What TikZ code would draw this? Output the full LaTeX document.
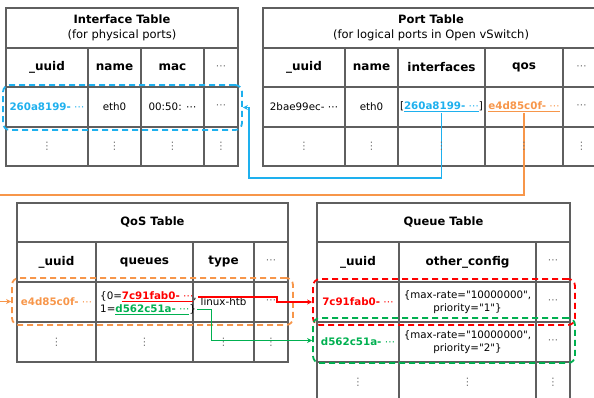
\documentclass[tikz,border=0pt]{standalone}
\usepackage{fontspec}
\setmainfont{DejaVu Sans}
% same face without TeX ligature mapping, so " stays a straight quote
\newfontfamily\plainqfont{DejaVu Sans}
\usetikzlibrary{arrows.meta,calc}
\definecolor{gridgray}{HTML}{5F5F5F}
\definecolor{dotgray}{HTML}{6E6E6E}
\definecolor{cblue}{HTML}{1EB0EE}
\definecolor{corange}{HTML}{F7964A}
\definecolor{cred}{HTML}{FF0000}
\definecolor{cgreen}{HTML}{00B050}
\tikzset{
  grid/.style={draw=gridgray, line width=1.2pt},
  ttl/.style={font=\fontsize{11.5}{15}\selectfont, align=center, inner sep=0pt},
  hdr/.style={font=\bfseries\fontsize{12}{14}\selectfont, inner sep=1pt},
  cell/.style={font=\fontsize{10.3}{12.5}\selectfont, inner sep=1pt},
  cfg/.style={font=\plainqfont\fontsize{10.3}{12.5}\selectfont, inner sep=1pt, align=center},
  dots/.style={cell, text=dotgray},
  dbox/.style={draw=#1, line width=1.8pt, dash pattern=on 6pt off 4pt,
    rounded corners=7pt, inner sep=0pt},
  link/.style={draw=#1, line width=1.5pt, -{Stealth[length=5pt,width=5pt]}}
}
\begin{document}
\begin{tikzpicture}[x=1pt,y=-1pt]
\useasboundingbox (0,0) rectangle (594,397);

% ---------- Interface table ----------
\draw[grid] (6,8) rectangle (238,166);
\foreach \yy in {48,87,127} \draw[grid] (6,\yy) -- (238,\yy);
\foreach \xx in {88,141,204} \draw[grid] (\xx,48) -- (\xx,166);
\node[ttl] (ifTitle) at (122,28) {\textbf{Interface Table}\\(for physical ports)};
\node[hdr] (ifH1) at (47,67.5) {\_uuid};
\node[hdr] (ifH2) at (114.5,67.5) {name};
\node[hdr] (ifH3) at (172.5,67.5) {mac};
\node[dots] (ifH4) at (221,67.5) {⋯};
\node[cell, text=cblue] (ifD1) at (47,107) {\textbf{260a8199-} ⋯};
\node[cell] (ifD2) at (114.5,107) {eth0};
\node[cell] (ifD3) at (172.5,107) {00:50: ⋯};
\node[dots] (ifD4) at (221,107) {⋯};
\node[dots] (ifE1) at (47,146.5) {⋮};
\node[dots] (ifE2) at (114.5,146.5) {⋮};
\node[dots] (ifE3) at (172.5,146.5) {⋮};
\node[dots] (ifE4) at (221,146.5) {⋮};

% ---------- Port table ----------
\draw[grid] (600,8) -- (263,8) -- (263,166) -- (600,166);
\foreach \yy in {48,87,127} \draw[grid] (263,\yy) -- (600,\yy);
\foreach \xx in {345,398,485,563} \draw[grid] (\xx,48) -- (\xx,166);
\node[ttl] (ptTitle) at (431,28) {\textbf{Port Table}\\(for logical ports in Open vSwitch)};
\node[hdr] (ptH1) at (304,67.5) {\_uuid};
\node[hdr] (ptH2) at (371.5,67.5) {name};
\node[hdr] (ptH3) at (441.5,67.5) {interfaces};
\node[hdr] (ptH4) at (524,67.5) {qos};
\node[dots] (ptH5) at (581.5,67.5) {⋯};
\node[cell] (ptD1) at (304,107) {2bae99ec- ⋯};
\node[cell] (ptD2) at (371.5,107) {eth0};
\node[cell] (portIf) at (441.5,107) {[\textcolor{cblue}{\underline{\textbf{260a8199-} ⋯}}]};
\node[cell, text=corange] (portQos) at (524,107) {\underline{\textbf{e4d85c0f-} ⋯}};
\node[dots] (ptD5) at (581.5,107) {⋯};
\node[dots] (ptE1) at (304,146.5) {⋮};
\node[dots] (ptE2) at (371.5,146.5) {⋮};
\node[dots] (ptE5) at (581.5,146.5) {⋮};

% ---------- QoS table ----------
\draw[grid] (17,203) rectangle (288,362);
\foreach \yy in {242,282,322} \draw[grid] (17,\yy) -- (288,\yy);
\foreach \xx in {96,193,254} \draw[grid] (\xx,242) -- (\xx,362);
\node[ttl] (qsTitle) at (152.5,222) {\textbf{QoS Table}};
\node[hdr] (qsH1) at (56.5,262) {\_uuid};
\node[hdr] (qsH2) at (144.5,262) {queues};
\node[hdr] (qsH3) at (223.5,262) {type};
\node[dots] (qsH4) at (271,262) {⋯};
\node[cell, text=corange] (qsD1) at (56.5,302) {\textbf{e4d85c0f-} ⋯};
\node[cell, anchor=west] (q0) at (99,297) {\{0=\textcolor{cred}{\underline{\textbf{7c91fab0-} ⋯}},};
\node[cell, anchor=west] (q1) at (99,309.5) {1=\textcolor{cgreen}{\underline{\textbf{d562c51a-} ⋯}}\}};
\node[cell] (qsD3) at (223.5,302) {linux-htb};
\node[dots] (qsD4) at (271,302) {⋯};
\node[dots] (qsE1) at (56.5,342) {⋮};
\node[dots] (qsE2) at (144.5,342) {⋮};

% ---------- Queue table ----------
\draw[grid] (317,405) -- (317,203) -- (570,203) -- (570,405);
\foreach \yy in {242,282,322,362} \draw[grid] (317,\yy) -- (570,\yy);
\foreach \xx in {399,536} \draw[grid] (\xx,242) -- (\xx,405);
\node[ttl] (quTitle) at (443.5,222) {\textbf{Queue Table}};
\node[hdr] (quH1) at (358,262) {\_uuid};
\node[hdr] (quH2) at (467.5,262) {other\_config};
\node[dots] (quH3) at (553,262) {⋯};
\node[cell, text=cred] (quA1) at (358,302) {\textbf{7c91fab0-} ⋯};
\node[cfg] (quA2) at (467.5,302) {\{max-rate="10000000",\\priority="1"\}};
\node[dots] (quA3) at (553,302) {⋯};
\node[cell, text=cgreen] (quB1) at (358,342) {\textbf{d562c51a-} ⋯};
\node[cfg] (quB2) at (467.5,342) {\{max-rate="10000000",\\priority="2"\}};
\node[dots] (quB3) at (553,342) {⋯};
\node[dots] (quE1) at (358,382) {⋮};
\node[dots] (quE2) at (467.5,382) {⋮};
\node[dots] (quE3) at (553,382) {⋮};

% ---------- highlighted rows ----------
\node[dbox=cblue, minimum width=239pt, minimum height=45pt] (ifBox) at (122.5,107.5) {};
\node[dbox=corange, minimum width=281pt, minimum height=47pt] (qosBox) at (152.5,301.5) {};
\node[dbox=cred, minimum width=262pt, minimum height=46pt] (redBox) at (444,302) {};
\node[dbox=cgreen, minimum width=262pt, minimum height=45pt] (greenBox) at (444,340.5) {};

% ---------- references ----------
\coordinate (blueTurn) at (249,178);
\coordinate (orangeTurn) at (-10,195);
\draw[link=cblue] (portIf.south) |- (blueTurn) |- (ifBox.east);
\draw[link=corange] (portQos.south) |- (orangeTurn) |- (qosBox.west);
\draw[link=cred] (q0.east) -| ($(redBox.west)+(-35,0)$) -- (redBox.west);
\draw[link=cgreen] (q1.east) -- ++(14,0) |- (greenBox.west);

% row dots that the reference lines run across
\node[dots] (ptE3) at (441.5,146.5) {⋮};
\node[dots] (ptE4) at (524,146.5) {⋮};
\node[dots] (qsE3) at (223.5,342) {⋮};
\node[dots] (qsE4) at (271,342) {⋮};
\end{tikzpicture}
\end{document}
